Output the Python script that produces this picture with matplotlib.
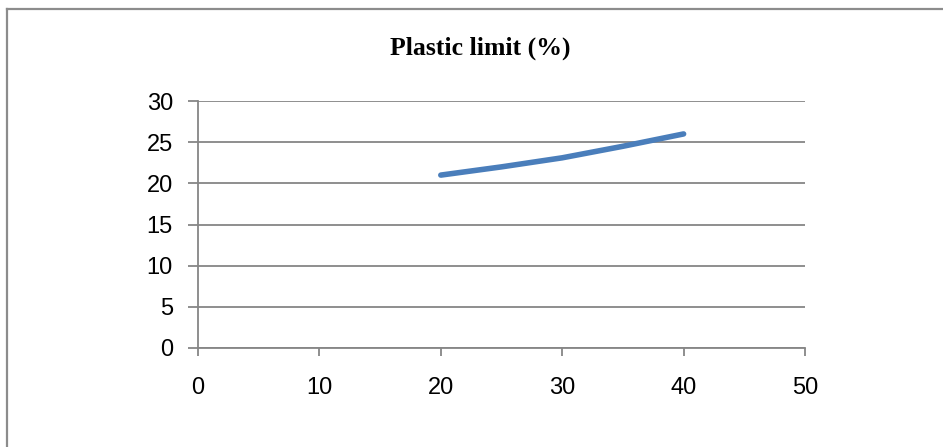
import matplotlib.pyplot as plt
from matplotlib.lines import Line2D

# DATA
x_vals = [20, 25, 30, 35, 40]
plastic_limit = [21.0, 22.0, 23.1, 24.5, 26.0]
x_ticks = [0, 10, 20, 30, 40, 50]
y_ticks = [0, 5, 10, 15, 20, 25, 30]

grid_c = "#868686"
line_c = "#4a7ebb"

fig = plt.figure(figsize=(9.43, 4.47), dpi=100)
ax = fig.add_axes([198 / 943, 1 - 348 / 447, (805 - 198) / 943, (348 - 101) / 447])

ax.plot(x_vals, plastic_limit, color=line_c, lw=4, solid_capstyle="round", solid_joinstyle="round")

ax.set_xlim(0, 50)
ax.set_ylim(0, 30)
ax.set_xticks(x_ticks)
ax.set_yticks(y_ticks)
ax.yaxis.grid(True, color=grid_c, lw=1.3)
ax.set_axisbelow(True)

for side in ["top", "right"]:
    ax.spines[side].set_visible(False)
for side in ["left", "bottom"]:
    ax.spines[side].set_color(grid_c)
    ax.spines[side].set_linewidth(1.3)

ax.tick_params(axis="y", length=7, width=1.3, color=grid_c, pad=11, labelsize=17)
ax.tick_params(axis="x", length=6, width=1.3, color=grid_c, pad=15, labelsize=17)
for lab in ax.get_xticklabels() + ax.get_yticklabels():
    lab.set_fontfamily("Liberation Sans")

fig.text(0.509, 1 - 48 / 447, "Plastic limit (%)", ha="center", va="center",
         fontfamily="Liberation Serif", fontweight="bold", fontsize=18.5)

# chart frame (top and left edges visible)
fig.add_artist(Line2D([7.5 / 943, 7.5 / 943], [0, 1 - 8.5 / 447], color="#8c8c8c", lw=1.6, transform=fig.transFigure))
fig.add_artist(Line2D([7.5 / 943, 1], [1 - 8.5 / 447, 1 - 8.5 / 447], color="#8c8c8c", lw=1.6, transform=fig.transFigure))

plt.savefig("out.png", dpi=100)
